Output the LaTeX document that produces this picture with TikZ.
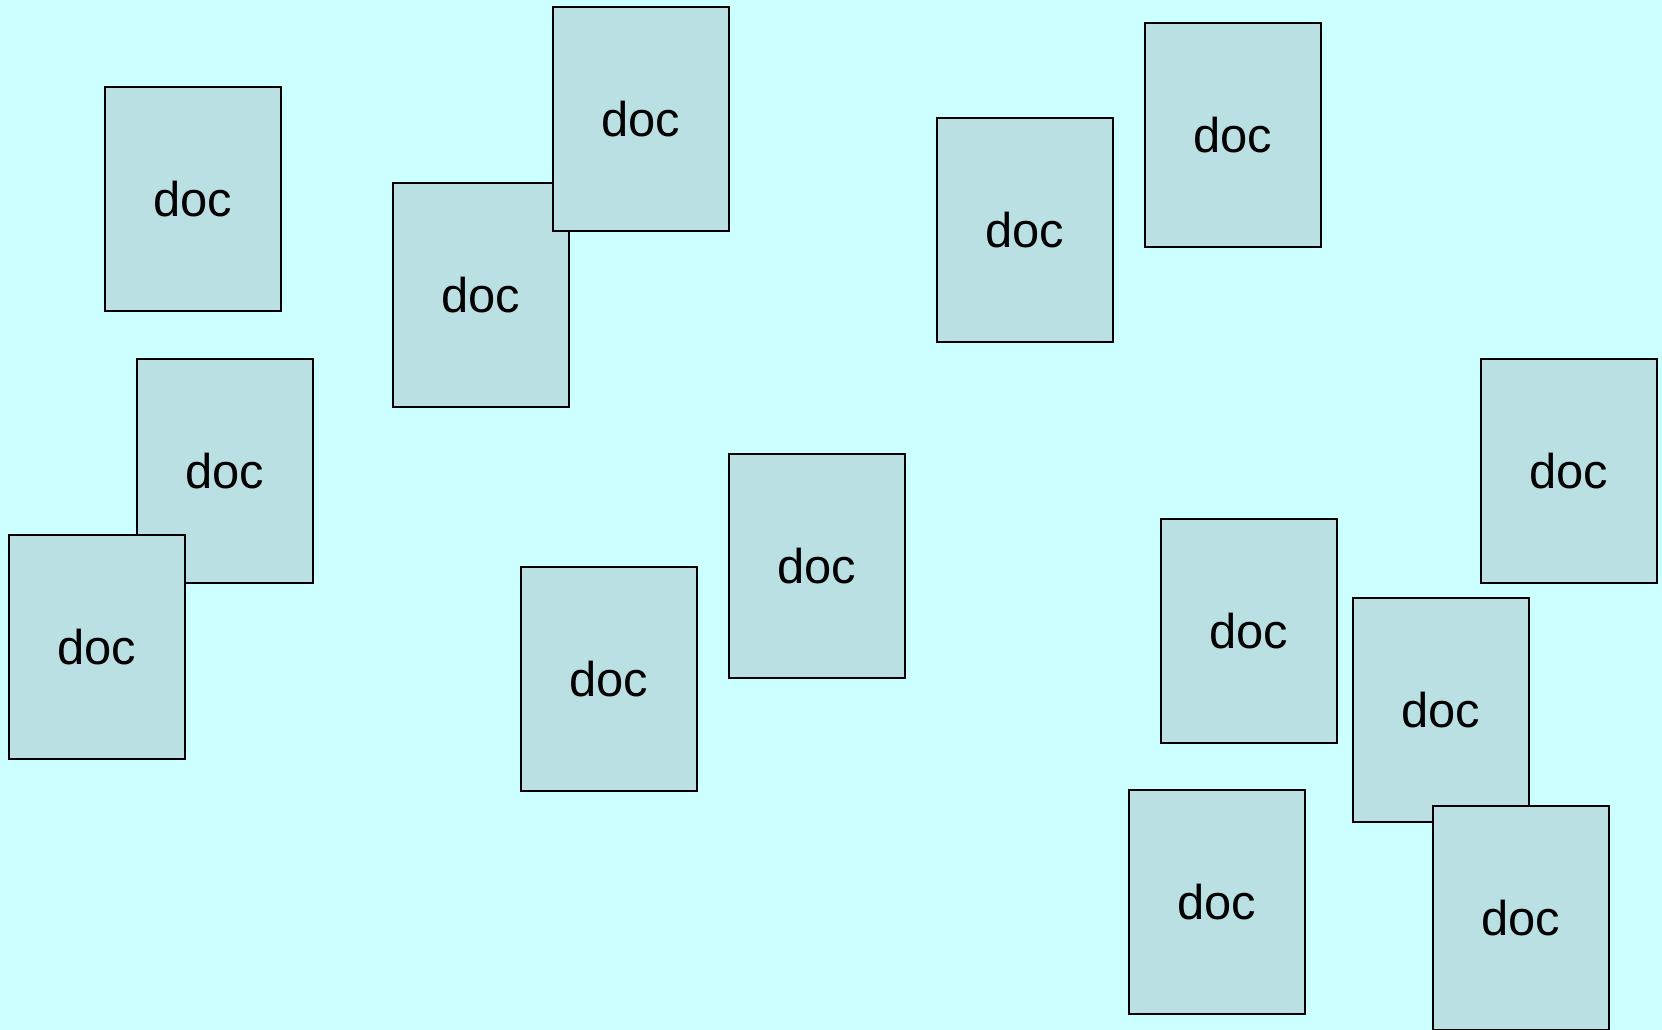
\documentclass[tikz,border=0pt]{standalone}
\usepackage{fontspec}
\setmainfont{Liberation Sans}
\usepackage{xcolor}
\definecolor{bgcyan}{HTML}{CCFFFF}
\definecolor{docfill}{HTML}{BBE0E3}

\begin{document}
\begin{tikzpicture}[x=0.01cm, y=-0.01cm,
    docbox/.style={draw=black, line width=0.6pt, fill=docfill, rectangle,
        minimum width=1.76cm, minimum height=2.23cm, inner sep=0pt,
        font=\fontsize{13.9pt}{16pt}\selectfont}]
            \fill[bgcyan] (0,0) rectangle (1662,1030);
            \useasboundingbox (0,0) rectangle (1662,1030);
            \node[docbox] (d1) at (193,199) {\raisebox{-0.6pt}{doc}};
            \node[docbox] (d3) at (481,295) {\raisebox{-0.6pt}{doc}};
            \node[docbox] (d2) at (641,119) {\raisebox{-0.6pt}{doc}};
            \node[docbox] (d4) at (1025,230) {\raisebox{-0.6pt}{doc}};
            \node[docbox] (d5) at (1233,135) {\raisebox{-0.6pt}{doc}};
            \node[docbox] (d6) at (225,471) {\raisebox{-0.6pt}{doc}};
            \node[docbox] (d7) at (97,647) {\raisebox{-0.6pt}{doc}};
            \node[docbox] (d8) at (817,566) {\raisebox{-0.6pt}{doc}};
            \node[docbox] (d9) at (609,679) {\raisebox{-0.6pt}{doc}};
            \node[docbox] (d10) at (1569,471) {\raisebox{-0.6pt}{doc}};
            \node[docbox] (d11) at (1249,631) {\raisebox{-0.6pt}{doc}};
            \node[docbox] (d12) at (1441,710) {\raisebox{-0.6pt}{doc}};
            \node[docbox] (d13) at (1521,918) {\raisebox{-0.6pt}{doc}};
            \node[docbox] (d14) at (1217,902) {\raisebox{-0.6pt}{doc}};
        \end{tikzpicture}
\end{document}
